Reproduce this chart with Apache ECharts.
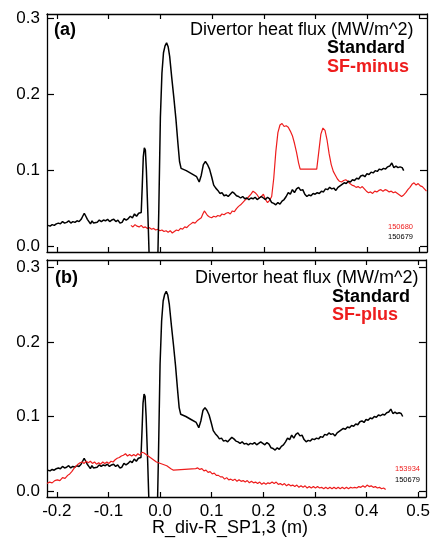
<!DOCTYPE html>
<html>
<head>
<meta charset="utf-8">
<script src="https://cdn.jsdelivr.net/npm/echarts@6/dist/echarts.min.js"></script>
<style>
  html, body { margin: 0; padding: 0; background: #fff; }
  #chart { width: 433px; height: 539px; }
</style>
</head>
<body>
<div id="chart"></div>
<script>
// 横轴刻度
var xTicks = [-0.2, -0.1, 0.0, 0.1, 0.2, 0.3, 0.4, 0.5];
var yTicks = [0.0, 0.1, 0.2, 0.3];

// Standard 150679 (two panels use the same shot)
var standard = [
  [-0.217, 0.028], [-0.213, 0.027], [-0.209, 0.029], [-0.205, 0.028], [-0.201, 0.030],
  [-0.197, 0.031], [-0.193, 0.030], [-0.189, 0.033], [-0.185, 0.031], [-0.181, 0.032],
  [-0.177, 0.034], [-0.173, 0.031], [-0.169, 0.033], [-0.165, 0.032], [-0.161, 0.034],
  [-0.157, 0.033], [-0.153, 0.036], [-0.150, 0.040], [-0.147, 0.044], [-0.144, 0.040],
  [-0.141, 0.036], [-0.138, 0.033], [-0.135, 0.030], [-0.132, 0.034], [-0.129, 0.031],
  [-0.126, 0.033], [-0.122, 0.032], [-0.118, 0.035], [-0.114, 0.033], [-0.110, 0.035],
  [-0.106, 0.034], [-0.102, 0.036], [-0.098, 0.033], [-0.094, 0.035], [-0.090, 0.036],
  [-0.086, 0.033], [-0.082, 0.035], [-0.078, 0.031], [-0.074, 0.032], [-0.070, 0.037],
  [-0.066, 0.035], [-0.062, 0.037], [-0.058, 0.040], [-0.054, 0.038], [-0.050, 0.043],
  [-0.046, 0.040], [-0.042, 0.044], [-0.039, 0.043], [-0.037, 0.045],
  [-0.035, 0.080], [-0.033, 0.118], [-0.031, 0.130], [-0.029, 0.127], [-0.027, 0.100],
  [-0.024, 0.040], [-0.020, -0.050], [-0.006, -0.050], [-0.003, 0.050], [0.000, 0.170],
  [0.003, 0.228], [0.006, 0.255], [0.009, 0.264], [0.012, 0.268], [0.015, 0.263],
  [0.018, 0.250], [0.022, 0.222], [0.026, 0.196], [0.030, 0.168], [0.034, 0.135],
  [0.037, 0.112], [0.040, 0.103], [0.050, 0.100], [0.060, 0.096], [0.070, 0.092],
  [0.075, 0.085], [0.079, 0.094], [0.083, 0.108], [0.087, 0.112], [0.091, 0.108],
  [0.095, 0.102], [0.099, 0.092], [0.103, 0.081], [0.107, 0.077], [0.111, 0.074],
  [0.115, 0.070], [0.119, 0.071], [0.123, 0.067], [0.127, 0.068], [0.131, 0.066],
  [0.135, 0.069], [0.139, 0.072], [0.143, 0.070], [0.147, 0.067], [0.151, 0.066],
  [0.155, 0.064], [0.159, 0.066], [0.163, 0.063], [0.167, 0.064], [0.171, 0.062],
  [0.175, 0.064], [0.179, 0.063], [0.183, 0.065], [0.187, 0.062], [0.191, 0.064],
  [0.195, 0.066], [0.199, 0.064], [0.203, 0.062], [0.207, 0.065], [0.211, 0.063],
  [0.215, 0.058], [0.219, 0.057], [0.223, 0.055], [0.227, 0.058], [0.231, 0.056],
  [0.235, 0.060], [0.239, 0.062], [0.243, 0.066], [0.247, 0.071], [0.251, 0.069],
  [0.255, 0.075], [0.259, 0.071], [0.263, 0.076], [0.267, 0.078], [0.271, 0.074],
  [0.275, 0.075], [0.279, 0.069], [0.283, 0.066], [0.287, 0.068], [0.291, 0.067],
  [0.295, 0.070], [0.299, 0.069], [0.303, 0.071], [0.307, 0.070], [0.311, 0.073],
  [0.315, 0.072], [0.319, 0.076], [0.323, 0.075], [0.327, 0.078], [0.331, 0.076],
  [0.335, 0.077], [0.339, 0.074], [0.343, 0.078], [0.347, 0.080], [0.351, 0.082],
  [0.355, 0.084], [0.359, 0.083], [0.363, 0.086], [0.367, 0.085], [0.371, 0.088],
  [0.375, 0.087], [0.379, 0.090], [0.383, 0.089], [0.387, 0.093], [0.391, 0.094],
  [0.395, 0.092], [0.399, 0.096], [0.403, 0.095], [0.407, 0.098], [0.411, 0.097],
  [0.415, 0.100], [0.419, 0.099], [0.423, 0.102], [0.427, 0.101], [0.431, 0.103],
  [0.435, 0.102], [0.439, 0.105], [0.443, 0.106], [0.447, 0.110], [0.451, 0.104],
  [0.455, 0.106], [0.459, 0.104], [0.463, 0.105], [0.467, 0.104], [0.470, 0.100]
];

// SF-minus 150680
var sfMinus = [
  [-0.057, 0.028], [-0.053, 0.026], [-0.049, 0.029], [-0.045, 0.027], [-0.041, 0.026],
  [-0.037, 0.028], [-0.033, 0.025], [-0.029, 0.026], [-0.025, 0.024], [-0.021, 0.025],
  [-0.017, 0.023], [-0.013, 0.024], [-0.009, 0.022], [-0.005, 0.023], [-0.001, 0.021],
  [0.003, 0.022], [0.007, 0.020], [0.011, 0.021], [0.015, 0.019], [0.019, 0.021],
  [0.023, 0.018], [0.027, 0.020], [0.031, 0.022], [0.035, 0.021], [0.039, 0.024],
  [0.043, 0.023], [0.047, 0.026], [0.051, 0.025], [0.055, 0.028], [0.059, 0.030],
  [0.063, 0.032], [0.067, 0.031], [0.071, 0.034], [0.075, 0.036], [0.079, 0.038],
  [0.082, 0.043], [0.085, 0.047], [0.088, 0.045], [0.091, 0.041], [0.095, 0.039],
  [0.099, 0.038], [0.103, 0.040], [0.107, 0.039], [0.111, 0.041], [0.115, 0.040],
  [0.119, 0.043], [0.123, 0.042], [0.127, 0.044], [0.131, 0.045], [0.135, 0.043],
  [0.139, 0.047], [0.143, 0.046], [0.147, 0.050], [0.151, 0.053], [0.155, 0.055],
  [0.159, 0.058], [0.163, 0.061], [0.167, 0.063], [0.171, 0.066], [0.175, 0.069],
  [0.179, 0.073], [0.183, 0.071], [0.187, 0.068], [0.191, 0.064], [0.195, 0.066],
  [0.199, 0.069], [0.203, 0.062], [0.207, 0.058], [0.211, 0.061], [0.215, 0.066],
  [0.219, 0.090], [0.223, 0.125], [0.227, 0.150], [0.231, 0.160], [0.235, 0.162],
  [0.239, 0.158], [0.243, 0.159], [0.247, 0.157], [0.251, 0.152], [0.255, 0.146],
  [0.259, 0.136], [0.263, 0.124], [0.267, 0.110], [0.270, 0.102], [0.302, 0.102],
  [0.306, 0.125], [0.310, 0.148], [0.314, 0.156], [0.318, 0.153], [0.322, 0.140],
  [0.326, 0.122], [0.330, 0.108], [0.334, 0.099], [0.338, 0.094], [0.342, 0.089],
  [0.346, 0.086], [0.350, 0.085], [0.354, 0.087], [0.358, 0.088], [0.362, 0.086],
  [0.366, 0.083], [0.370, 0.081], [0.374, 0.080], [0.378, 0.078], [0.382, 0.079],
  [0.386, 0.077], [0.390, 0.079], [0.394, 0.076], [0.398, 0.073], [0.402, 0.071],
  [0.406, 0.072], [0.410, 0.070], [0.414, 0.073], [0.418, 0.072], [0.422, 0.074],
  [0.426, 0.075], [0.430, 0.073], [0.434, 0.075], [0.438, 0.074], [0.442, 0.072],
  [0.446, 0.073], [0.450, 0.071], [0.454, 0.072], [0.458, 0.070], [0.462, 0.068],
  [0.466, 0.066], [0.470, 0.068], [0.474, 0.071], [0.478, 0.075], [0.482, 0.078],
  [0.486, 0.082], [0.490, 0.084], [0.494, 0.081], [0.498, 0.083], [0.502, 0.080],
  [0.506, 0.079], [0.510, 0.076], [0.514, 0.073]
];

// SF-plus 153934
var sfPlus = [
  [-0.219, 0.010], [-0.214, 0.012], [-0.209, 0.011], [-0.204, 0.014], [-0.199, 0.015],
  [-0.194, 0.014], [-0.189, 0.018], [-0.184, 0.017], [-0.179, 0.021], [-0.175, 0.023],
  [-0.171, 0.026], [-0.167, 0.030], [-0.163, 0.033], [-0.159, 0.036], [-0.155, 0.038],
  [-0.151, 0.039], [-0.147, 0.037], [-0.143, 0.040], [-0.139, 0.038], [-0.135, 0.040],
  [-0.131, 0.037], [-0.127, 0.039], [-0.123, 0.036], [-0.119, 0.038], [-0.115, 0.036],
  [-0.111, 0.039], [-0.107, 0.037], [-0.103, 0.039], [-0.099, 0.037], [-0.095, 0.040],
  [-0.091, 0.039], [-0.087, 0.042], [-0.083, 0.044], [-0.079, 0.045], [-0.075, 0.047],
  [-0.071, 0.048], [-0.067, 0.050], [-0.063, 0.047], [-0.059, 0.049], [-0.055, 0.047],
  [-0.051, 0.049], [-0.047, 0.047], [-0.043, 0.050], [-0.039, 0.048], [-0.035, 0.052],
  [-0.031, 0.051], [-0.027, 0.049], [-0.023, 0.047], [-0.019, 0.045], [-0.015, 0.043],
  [-0.011, 0.041], [-0.007, 0.039], [-0.003, 0.038], [0.001, 0.037], [0.005, 0.036],
  [0.009, 0.035], [0.013, 0.034], [0.017, 0.032], [0.021, 0.030], [0.026, 0.028],
  [0.069, 0.030], [0.073, 0.031], [0.077, 0.029], [0.081, 0.030], [0.085, 0.027],
  [0.089, 0.028], [0.093, 0.025], [0.097, 0.026], [0.101, 0.023], [0.105, 0.024],
  [0.109, 0.021], [0.113, 0.021], [0.117, 0.019], [0.121, 0.019], [0.125, 0.016],
  [0.129, 0.018], [0.133, 0.015], [0.137, 0.016], [0.141, 0.014], [0.145, 0.016],
  [0.149, 0.013], [0.153, 0.015], [0.157, 0.013], [0.161, 0.014], [0.165, 0.012],
  [0.169, 0.014], [0.173, 0.011], [0.177, 0.013], [0.181, 0.011], [0.185, 0.012],
  [0.189, 0.010], [0.193, 0.012], [0.197, 0.009], [0.201, 0.011], [0.205, 0.009],
  [0.209, 0.011], [0.213, 0.010], [0.217, 0.012], [0.221, 0.010], [0.225, 0.012],
  [0.229, 0.009], [0.233, 0.010], [0.237, 0.008], [0.241, 0.010], [0.245, 0.007],
  [0.249, 0.009], [0.253, 0.007], [0.257, 0.008], [0.261, 0.006], [0.265, 0.008],
  [0.269, 0.005], [0.273, 0.007], [0.277, 0.005], [0.281, 0.007], [0.285, 0.004],
  [0.289, 0.006], [0.293, 0.004], [0.297, 0.006], [0.301, 0.004], [0.305, 0.006],
  [0.309, 0.004], [0.313, 0.005], [0.317, 0.003], [0.321, 0.005], [0.325, 0.003],
  [0.329, 0.005], [0.333, 0.003], [0.337, 0.005], [0.341, 0.003], [0.345, 0.005],
  [0.349, 0.003], [0.353, 0.005], [0.357, 0.003], [0.361, 0.005], [0.365, 0.003],
  [0.369, 0.005], [0.373, 0.004], [0.377, 0.005], [0.381, 0.004], [0.385, 0.006],
  [0.389, 0.005], [0.393, 0.007], [0.397, 0.005], [0.401, 0.008], [0.405, 0.006],
  [0.409, 0.007], [0.413, 0.005], [0.417, 0.006], [0.421, 0.004], [0.425, 0.005],
  [0.429, 0.003], [0.433, 0.004], [0.437, 0.002]
];

var FONT = "'Liberation Sans', Arial, Helvetica, sans-serif";
var RED = "#ee1d1d";

// 坐标轴: 下/上 x 轴, 左/右 y 轴, 刻度朝内
function xAxisOf(grid, pos, labels) {
  return {
    type: "value",
    gridIndex: grid,
    position: pos,
    min: -0.219,
    max: 0.515,
    axisLine: { show: true, onZero: false, lineStyle: { color: "#000", width: 1.3 } },
    axisTick: { show: true, inside: true, length: 5, customValues: xTicks, lineStyle: { color: "#000", width: 1.2 } },
    axisLabel: {
      show: labels,
      customValues: xTicks,
      margin: 6,
      color: "#000",
      fontSize: 17,
      fontFamily: FONT,
      formatter: function (v) { return v.toFixed(1); },
    },
    splitLine: { show: false },
  };
}
function yAxisOf(grid, pos, labels, min, max) {
  return {
    type: "value",
    gridIndex: grid,
    position: pos,
    min: min,
    max: max,
    axisLine: { show: true, onZero: false, lineStyle: { color: "#000", width: 1.3 } },
    axisTick: { show: true, inside: true, length: 7, customValues: yTicks, lineStyle: { color: "#000", width: 1.2 } },
    axisLabel: {
      show: labels,
      customValues: yTicks,
      margin: 7,
      color: "#000",
      fontSize: 17,
      fontFamily: FONT,
      formatter: function (v) { return v.toFixed(1); },
    },
    splitLine: { show: false },
  };
}

function label(text, x, y, size, bold, color) {
  return {
    type: "text",
    x: x,
    y: y,
    style: {
      text: text,
      fill: color,
      font: (bold ? "bold " : "") + size + "px " + FONT,
      align: "left",
      verticalAlign: "middle",
      textVerticalAlign: "middle",
    },
  };
}

var myChart = echarts.init(document.getElementById("chart"));
myChart.setOption({
  animation: false,
  grid: [
    { left: 47, top: 14, width: 380, height: 238 },
    { left: 47, top: 260, width: 380, height: 237 },
  ],
  xAxis: [
    xAxisOf(0, "bottom", false),
    xAxisOf(0, "top", false),
    xAxisOf(1, "bottom", true),
    xAxisOf(1, "top", false),
  ],
  yAxis: [
    yAxisOf(0, "left", true, -0.007, 0.306),
    yAxisOf(0, "right", false, -0.007, 0.306),
    yAxisOf(1, "left", true, -0.008, 0.31),
    yAxisOf(1, "right", false, -0.008, 0.31),
  ],
  series: [
    {
      name: "Standard",
      type: "line",
      xAxisIndex: 0,
      yAxisIndex: 0,
      data: standard,
      showSymbol: false,
      clip: true,
      lineStyle: { color: "#000", width: 1.5 },
      z: 3,
    },
    {
      name: "SF-minus",
      type: "line",
      xAxisIndex: 0,
      yAxisIndex: 0,
      data: sfMinus,
      showSymbol: false,
      clip: true,
      lineStyle: { color: RED, width: 1.2 },
      z: 2,
    },
    {
      name: "Standard",
      type: "line",
      xAxisIndex: 2,
      yAxisIndex: 2,
      data: standard,
      showSymbol: false,
      clip: true,
      lineStyle: { color: "#000", width: 1.5 },
      z: 2,
    },
    {
      name: "SF-plus",
      type: "line",
      xAxisIndex: 2,
      yAxisIndex: 2,
      data: sfPlus,
      showSymbol: false,
      clip: true,
      lineStyle: { color: RED, width: 1.2 },
      z: 3,
    },
  ],
  // 面板内文字
  graphic: [
    label("(a)", 54, 30, 18, true, "#000"),
    label("Divertor heat flux (MW/m^2)", 190, 30, 18, false, "#000"),
    label("Standard", 327, 48, 18, true, "#000"),
    label("SF-minus", 327, 67, 18, true, RED),
    label("150680", 388, 227, 7.5, false, RED),
    label("150679", 388, 237, 7.5, false, "#000"),
    label("(b)", 55, 278, 18, true, "#000"),
    label("Divertor heat flux (MW/m^2)", 195, 278, 18, false, "#000"),
    label("Standard", 332, 297, 18, true, "#000"),
    label("SF-plus", 332, 315, 18, true, RED),
    label("153934", 395, 469, 7.5, false, RED),
    label("150679", 395, 480, 7.5, false, "#000"),
    label("R_div-R_SP1,3 (m)", 152, 528, 18, false, "#000"),
  ],
});
</script>
</body>
</html>
